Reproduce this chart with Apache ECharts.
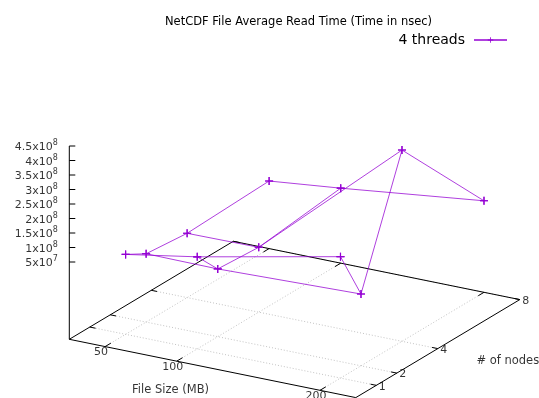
<!DOCTYPE html>
<html>
<head>
<meta charset="utf-8">
<script src="https://cdn.jsdelivr.net/npm/echarts@6/dist/echarts.min.js"></script>
<style>
html, body { margin: 0; padding: 0; background: #fff; }
#main { width: 539px; height: 398px; }
</style>
</head>
<body>
<div id="main"></div>
<script>
// Schema: file size (MB) x number of nodes -> average read time (nsec)
var fileSizes = [50, 100, 200];
var nodeCounts = [1, 2, 4, 8];
var time50  = [5.9e7, 1.9e7, 5.1e6, 1.65e7];
var time100 = [1.01e8, 1.7e7, 7.1e6, 4.2e7];
var time200 = [2.02e8, 3.1e7, 4.43e8, 9.9e7];
var readTime = [time50, time100, time200];

var xTicks = [50, 100, 200];
var yTicks = [1, 2, 4, 8];
var zTicks = [5e7, 1e8, 1.5e8, 2e8, 2.5e8, 3e8, 3.5e8, 4e8, 4.5e8];
var zTickLabels = [['5', '7'], ['1', '8'], ['1.5', '8'], ['2', '8'], ['2.5', '8'],
                   ['3', '8'], ['3.5', '8'], ['4', '8'], ['4.5', '8']];

// axis ranges and the gnuplot-like view, fitted on the picture
var xr = [25, 225], yr = [0, 8], zr = [0, 4.5e8];
var org = [69.3, 339.3], ex = [286.5, 58.3], ey = [164, -98];
var zLift = 62.8, zLen = 130.5;

function proj(x, y, z) {
    var fx = (x - xr[0]) / (xr[1] - xr[0]);
    var fy = (y - yr[0]) / (yr[1] - yr[0]);
    var p = [org[0] + fx * ex[0] + fy * ey[0], org[1] + fx * ex[1] + fy * ey[1]];
    if (z !== undefined) {
        p[1] -= zLift + (z - zr[0]) / (zr[1] - zr[0]) * zLen;
    }
    return p;
}

var font = 'DejaVu Sans';
var purple = '#9400d3';

// base plane box + vertical z axis
var box = [proj(xr[0], yr[0]), proj(xr[1], yr[0]), proj(xr[1], yr[1]),
           proj(xr[0], yr[1]), proj(xr[0], yr[0]), null,
           proj(xr[0], yr[0]), proj(xr[0], yr[0], zr[1])];

// dotted grid on the base
var gridLines = [];
xTicks.forEach(function (t) {
    gridLines.push(proj(t, yr[0]), proj(t, yr[1]), null);
});
yTicks.forEach(function (t) {
    gridLines.push(proj(xr[0], t), proj(xr[1], t), null);
});

// tick marks
var ticks = [];
var dy = 0.035 * (yr[1] - yr[0]), dx = 0.02 * (xr[1] - xr[0]);
xTicks.forEach(function (t) {
    ticks.push(proj(t, yr[0]), proj(t, yr[0] + dy), null);
    ticks.push(proj(t, yr[1]), proj(t, yr[1] - dy), null);
});
yTicks.forEach(function (t) {
    ticks.push(proj(xr[1], t), proj(xr[1] - dx, t), null);
    ticks.push(proj(xr[0], t), proj(xr[0] + dx, t), null);
});
zTicks.forEach(function (t) {
    var p = proj(xr[0], yr[0], t);
    ticks.push(p, [p[0] + 6, p[1]], null);
});

// surface mesh: along node counts, then along file sizes
var mesh = [];
fileSizes.forEach(function (fs, i) {
    nodeCounts.forEach(function (n, j) { mesh.push(proj(fs, n, readTime[i][j])); });
    mesh.push(null);
});
nodeCounts.forEach(function (n, j) {
    fileSizes.forEach(function (fs, i) { mesh.push(proj(fs, n, readTime[i][j])); });
    mesh.push(null);
});

// text labels
function textItem(p, text, opt) {
    return {
        value: p,
        label: Object.assign({
            show: true, position: 'inside', formatter: text,
            fontFamily: font, fontSize: 11, color: '#000',
            align: 'center', verticalAlign: 'middle'
        }, opt || {})
    };
}
var labels = [];
xTicks.forEach(function (t) {
    var p = proj(t, yr[0]);
    labels.push(textItem([p[0] - 4, p[1] + 6], String(t)));
});
yTicks.forEach(function (t) {
    var p = proj(xr[1], t);
    labels.push(textItem([p[0] + 6, p[1] + 1.5], String(t)));
});
zTicks.forEach(function (t, k) {
    var p = proj(xr[0], yr[0], t);
    labels.push(textItem([p[0] - 11.5, p[1]], '{b|' + zTickLabels[k][0] + 'x10}{s|' + zTickLabels[k][1] + '}', {
        align: 'right',
        rich: {
            b: { fontFamily: font, fontSize: 11, color: '#000', verticalAlign: 'bottom', lineHeight: 14 },
            s: { fontFamily: font, fontSize: 8, color: '#000', verticalAlign: 'top', lineHeight: 14 }
        }
    }));
});
var xMid = proj((xr[0] + xr[1]) / 2, yr[0]);
labels.push(textItem([xMid[0] - 42, xMid[1] + 22], 'File Size (MB)', { fontSize: 11.5 }));
var yMid = proj(xr[1], (yr[0] + yr[1]) / 2);
labels.push(textItem([yMid[0] + 70, yMid[1] + 12], '# of nodes', { fontSize: 11.5 }));

var plus = 'path://M4.3,0H5.7V4.3H10V5.7H5.7V10H4.3V5.7H0V4.3H4.3Z';

var myChart = echarts.init(document.getElementById('main'));

option = {
    animation: false,
    backgroundColor: '#fff',
    title: {
        text: 'NetCDF File Average Read Time (Time in nsec)',
        left: 160,
        top: 11,
        textStyle: { fontFamily: font, fontSize: 11.5, fontWeight: 'normal', color: '#000' }
    },
    legend: {
        data: ['4 threads'],
        right: 26,
        top: 28,
        align: 'right',
        itemWidth: 33,
        itemHeight: 7,
        textStyle: { fontFamily: font, fontSize: 14, color: '#000', padding: [0, 4, 0, 0] }
    },
    grid: { left: 0, right: 0, top: 0, bottom: 0 },
    xAxis: { type: 'value', min: 0, max: 539, show: false },
    yAxis: { type: 'value', min: 0, max: 398, inverse: true, show: false },
    series: [
        {
            name: 'grid', type: 'line', data: gridLines, symbol: 'none', silent: true,
            lineStyle: { color: '#b4b4b4', width: 0.8, type: [1, 2] }
        },
        {
            name: 'box', type: 'line', data: box, symbol: 'none', silent: true,
            lineStyle: { color: '#000', width: 1 }
        },
        {
            name: 'ticks', type: 'line', data: ticks, symbol: 'none', silent: true,
            lineStyle: { color: '#000', width: 1 }
        },
        {
            name: '4 threads', type: 'line', data: mesh,
            symbol: plus, symbolSize: 8, showSymbol: true,
            lineStyle: { color: purple, width: 1, opacity: 0.75 },
            itemStyle: { color: purple }
        },
        {
            name: 'labels', type: 'scatter', data: labels, symbolSize: 0, silent: true
        }
    ]
};

myChart.setOption(option);
</script>
</body>
</html>
